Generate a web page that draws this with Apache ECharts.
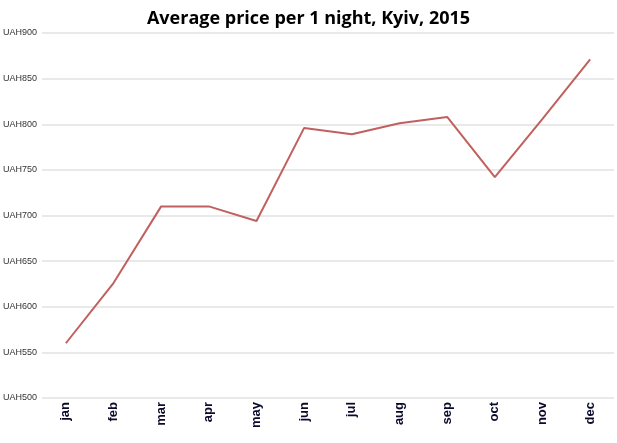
<!DOCTYPE html>
<html>
<head>
<meta charset="utf-8">
<script src="https://cdn.jsdelivr.net/npm/echarts@6/dist/echarts.min.js"></script>
<style>
    html, body { margin: 0; padding: 0; background: #fff; }
    #chart { width: 617px; height: 443px; }
</style>
</head>
<body>
<div id="chart"></div>
<script>
var months = ['jan', 'feb', 'mar', 'apr', 'may', 'jun', 'jul', 'aug', 'sep', 'oct', 'nov', 'dec'];
var prices = [560, 626, 710, 710, 694, 796, 789, 801, 808, 742, 806, 871];
var yTicks = [500, 550, 600, 650, 700, 750, 800, 850, 900];

var chart = echarts.init(document.getElementById('chart'));

var option = {
    animation: false,
    backgroundColor: '#fff',
    title: {
        left: 'center',
        top: 5,
        text: 'Average price per 1 night, Kyiv, 2015',
        textStyle: {
            color: '#000',
            fontFamily: 'Open Sans',
            fontWeight: 'bold',
            fontSize: 18
        }
    },
    grid: {
        left: 42,
        right: 3,
        top: 33,
        bottom: 45
    },
    xAxis: {
        type: 'category',
        data: months,
        boundaryGap: true,
        axisLine: { show: false },
        axisTick: { show: false },
        axisLabel: {
            rotate: 90,
            margin: 4,
            color: '#0a0a2a',
            fontFamily: 'Liberation Sans',
            fontWeight: 'bold',
            fontSize: 13
        }
    },
    yAxis: {
        type: 'value',
        min: yTicks[0],
        max: yTicks[yTicks.length - 1],
        interval: 50,
        axisLine: { show: false },
        axisTick: { show: false },
        splitLine: {
            lineStyle: { color: '#e2e2e2', width: 1.5 }
        },
        axisLabel: {
            align: 'left',
            margin: 39,
            color: '#333',
            fontFamily: 'Liberation Sans',
            fontSize: 9,
            formatter: function (v) { return 'UAH' + v; }
        }
    },
    series: [{
        type: 'line',
        data: prices,
        symbol: 'none',
        lineStyle: {
            color: '#c0605f',
            width: 2
        }
    }]
};

chart.setOption(option);
</script>
</body>
</html>
